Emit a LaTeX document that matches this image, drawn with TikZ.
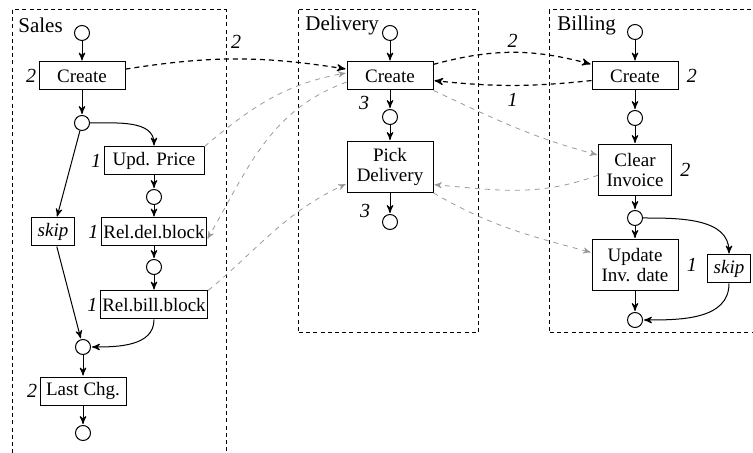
\documentclass[tikz,border=0pt]{standalone}
\usepackage{fontspec}
\setmainfont{Liberation Serif}
\usetikzlibrary{arrows,positioning}

\begin{document}
\begin{tikzpicture}[shorten >=0.5pt,>=stealth',x=1pt,y=1pt,
        every node/.style={font=\fontsize{9.5}{10}\selectfont}]
        \tikzstyle{lane}=[draw,line width=0.5pt,dash pattern=on 2pt off 1.6pt]
        \tikzstyle{title}=[anchor=west,inner sep=1pt,font=\fontsize{10.5}{12}\selectfont]
        \tikzstyle{event}=[circle,draw,line width=0.5pt,minimum size=7.5pt,inner sep=0pt]
        \tikzstyle{task}=[rectangle,draw,line width=0.5pt,inner xsep=3pt,inner ysep=2pt,minimum height=14pt,align=center]
        \tikzstyle{wide}=[minimum width=43pt]
        \tikzstyle{tall}=[minimum height=25.5pt]
        \tikzstyle{tight}=[inner xsep=1pt,minimum width=50pt]
        \tikzstyle{num}=[font=\fontsize{10}{12}\selectfont\itshape,inner sep=1pt]
        \tikzstyle{msg}=[line width=0.6pt,dash pattern=on 2.5pt off 2pt]
        \tikzstyle{dep}=[black!40,line width=0.4pt,dash pattern=on 2.5pt off 2.5pt]

        \useasboundingbox (0,0) rectangle (376.5,-226.5);

        % lanes
        \draw[lane] (6,-5) rectangle (113,-240);
        \draw[lane] (149,-5) rectangle (239,-166.5);
        \draw[lane] (274.5,-5) rectangle (385,-166.5);
        \node[title] (tSales) at (8,-12.5)      {Sales};
        \node[title] (tDelivery) at (151.5,-12.5) {Delivery};
        \node[title] (tBilling) at (277.5,-12.5)  {Billing};

        % Sales
        \node[event]  (S0) at (41,-16.5)                                { };
        \node[task,wide,label={[num]left:2}]  (SCreate) [node distance=21.5pt,below of=S0] {Create};
        \node[event]  (S1) [node distance=23.5pt,below of=SCreate]      { };
        \node[task,tight,label={[num]left:1}] (Upd) at (77,-80.5)      {Upd. Price};
        \node[event]  (S2) [node distance=18pt,below of=Upd]            { };
        \node[task,tight,label={[num]left:1}] (RelDel) [node distance=17.5pt,below of=S2] {Rel.del.block};
        \node[event]  (S3) [node distance=17.5pt,below of=RelDel]       { };
        \node[task,tight,label={[num]left:1}] (RelBill) [node distance=19pt,below of=S3] {Rel.bill.block};
        \node[task]   (SSkip) at (26.5,-116)                            {\textit{skip}};
        \node[event]  (S4) at (41.5,-173.5)                             { };
        \node[task,wide,label={[num]left:2}]  (LastChg) [node distance=22pt,below of=S4] {Last Chg.};
        \node[event]  (S5) [node distance=21pt,below of=LastChg]        { };

        % Delivery
        \node[event]  (D0) at (195,-16.5)                               { };
        \node[task,wide,label={[num,xshift=-13pt,label distance=1.5pt]below:3}] (DCreate) [node distance=21.5pt,below of=D0] {Create};
        \node[event]  (D1) [node distance=20.5pt,below of=DCreate]      { };
        \node[task,wide,tall,label={[num,xshift=-12.5pt,label distance=4.5pt]below:3}] (Pick) [node distance=25pt,below of=D1] {Pick\\Delivery};
        \node[event]  (D2) [node distance=27.5pt,below of=Pick]         { };

        % Billing
        \node[event]  (B0) at (317.5,-16)                               { };
        \node[task,wide,label={[num,label distance=3pt]right:2}] (BCreate) [node distance=22pt,below of=B0] {Create};
        \node[event]  (B1) [node distance=21pt,below of=BCreate]        { };
        \node[task,tall,minimum width=36.5pt,label={[num,label distance=3pt]right:2}] (Clear) [node distance=26pt,below of=B1] {Clear\\Invoice};
        \node[event]  (B2) [node distance=24pt,below of=Clear]          { };
        \node[task,wide,tall,label={[num,label distance=3pt]right:1}] (Update) [node distance=23.5pt,below of=B2] {Update\\Inv. date};
        \node[event]  (B3) [node distance=27.5pt,below of=Update]       { };
        \node[task]   (BSkip) at (364.5,-134.5)                         {\textit{skip}};

        \path[->,line width=0.5pt]
                  (S0) edge (SCreate)% Sales
                  (SCreate) edge (S1)
                  (S1) edge [out=0,in=90] (Upd)
                       edge (SSkip)
                  (Upd) edge (S2)
                  (S2) edge (RelDel)
                  (RelDel) edge (S3)
                  (S3) edge (RelBill)
                  (SSkip) edge (S4)
                  (RelBill) edge [out=-90,in=0] (S4)
                  (S4) edge (LastChg)
                  (LastChg) edge (S5)
                  (D0) edge (DCreate)% Delivery
                  (DCreate) edge (D1)
                  (D1) edge (Pick)
                  (Pick) edge (D2)
                  (B0) edge (BCreate)% Billing
                  (BCreate) edge (B1)
                  (B1) edge (Clear)
                  (Clear) edge (B2)
                  (B2) edge (Update)
                       edge [out=0,in=90] (BSkip)
                  (Update) edge (B3)
                  (BSkip) edge [out=-90,in=0] (B3);

        \path[->]
                  (SCreate) edge [msg,bend left=9] node [num,above=4pt]   {2} (DCreate)
                  (DCreate) edge [msg,bend left=15] node [num,above=1pt]  {2} (BCreate)
                  (BCreate) edge [msg,bend left=6] node [num,below=2.5pt] {1} (DCreate)
                  (Upd.north east) edge [dep,out=40,in=190] (DCreate.176)
                  (DCreate.188) edge [dep,out=200,in=60] (RelDel.352)
                  (RelBill.north east) edge [dep,out=40,in=205] (Pick.201)
                  (DCreate.south east) edge [dep,out=-25,in=165] (Clear.158)
                  (Clear.188) edge [dep,out=200,in=-5] (Pick.338)
                  (Pick.south east) edge [dep,out=-30,in=165] (Update.164);
\end{tikzpicture}
\end{document}
